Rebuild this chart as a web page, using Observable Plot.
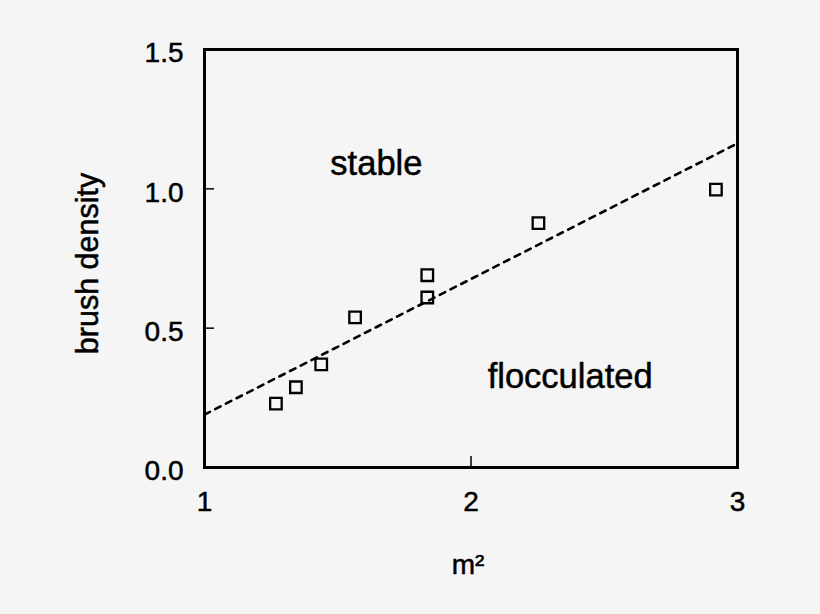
<!DOCTYPE html>
<html>
<head>
<meta charset="utf-8">
<script src="https://cdn.jsdelivr.net/npm/d3@7"></script>
<script src="https://cdn.jsdelivr.net/npm/@observablehq/plot@0.6"></script>
<style>
  html, body { margin: 0; padding: 0; background: #f5f5f5; }
  #chart svg { display: block; }
  #chart svg text { stroke: black; stroke-width: 0.5px; }
</style>
</head>
<body>
<div id="chart"></div>
<script>
// Measured points: m^2 vs brush density
const m2 = [1.268, 1.343, 1.438, 1.565, 1.836, 1.836, 2.253, 2.919];
const density = [0.229, 0.288, 0.370, 0.539, 0.690, 0.610, 0.877, 0.997];

// Dashed boundary line endpoints
const lineX = [1, 3];
const lineY = [0.19, 1.163];

// Tick values
const xTicks = [1, 2, 3];
const yTicks = [0, 0.5, 1.0, 1.5];

// Region labels
const regionNames = ["stable", "flocculated"];
const regionX = [1.645, 2.372];
const regionY = [1.051, 0.287];

const points = m2.map((x, i) => ({x, y: density[i]}));
const boundary = lineX.map((x, i) => ({x, y: lineY[i]}));
const regions = regionNames.map((t, i) => ({t, x: regionX[i], y: regionY[i]}));

const chart = Plot.plot({
  width: 820,
  height: 614,
  marginLeft: 204,
  marginRight: 83,
  marginTop: 49,
  marginBottom: 147,
  style: {background: "#f5f5f5", fontFamily: "Arial, 'Liberation Sans', sans-serif", fontSize: "28px", color: "black"},
  x: {domain: [1, 3]},
  y: {domain: [0, 1.5]},
  marks: [
    // inward ticks
    Plot.axisX({ticks: xTicks, tickSize: 11, dy: -11, tickFormat: () => "", label: null, strokeWidth: 1.5}),
    Plot.axisY({ticks: yTicks, tickSize: 10, dx: 10, tickFormat: () => "", label: null, strokeWidth: 1.5}),
    // tick labels
    Plot.axisX({ticks: xTicks, tickSize: 0, tickPadding: 24, tickFormat: d3.format("d"), label: null, fontSize: 28}),
    Plot.axisY({ticks: yTicks, tickSize: 0, tickPadding: 21, dy: 4, tickFormat: d3.format(".1f"), label: null, fontSize: 28}),
    Plot.frame({stroke: "black", strokeWidth: 3}),
    Plot.line(boundary, {x: "x", y: "y", stroke: "black", strokeWidth: 2.6, strokeDasharray: "6,6"}),
    Plot.dot(points, {x: "x", y: "y", symbol: "square", r: 6.5, stroke: "black", strokeWidth: 2.3, fill: "none"}),
    Plot.text(regions, {x: "x", y: "y", text: "t", fontSize: 34.5, lineAnchor: "bottom", textAnchor: "middle", fill: "black"}),
    // axis titles
    Plot.text(["brush density"], {frameAnchor: "left", text: d => d, rotate: -90, dx: -107, dy: 5, textAnchor: "middle", lineAnchor: "bottom", fontSize: 30.5, fill: "black"}),
    Plot.text(["m²"], {frameAnchor: "bottom", text: d => d, dx: -3, dy: 106, textAnchor: "middle", lineAnchor: "bottom", fontSize: 28, fill: "black"})
  ]
});
document.getElementById("chart").appendChild(chart);
</script>
</body>
</html>
